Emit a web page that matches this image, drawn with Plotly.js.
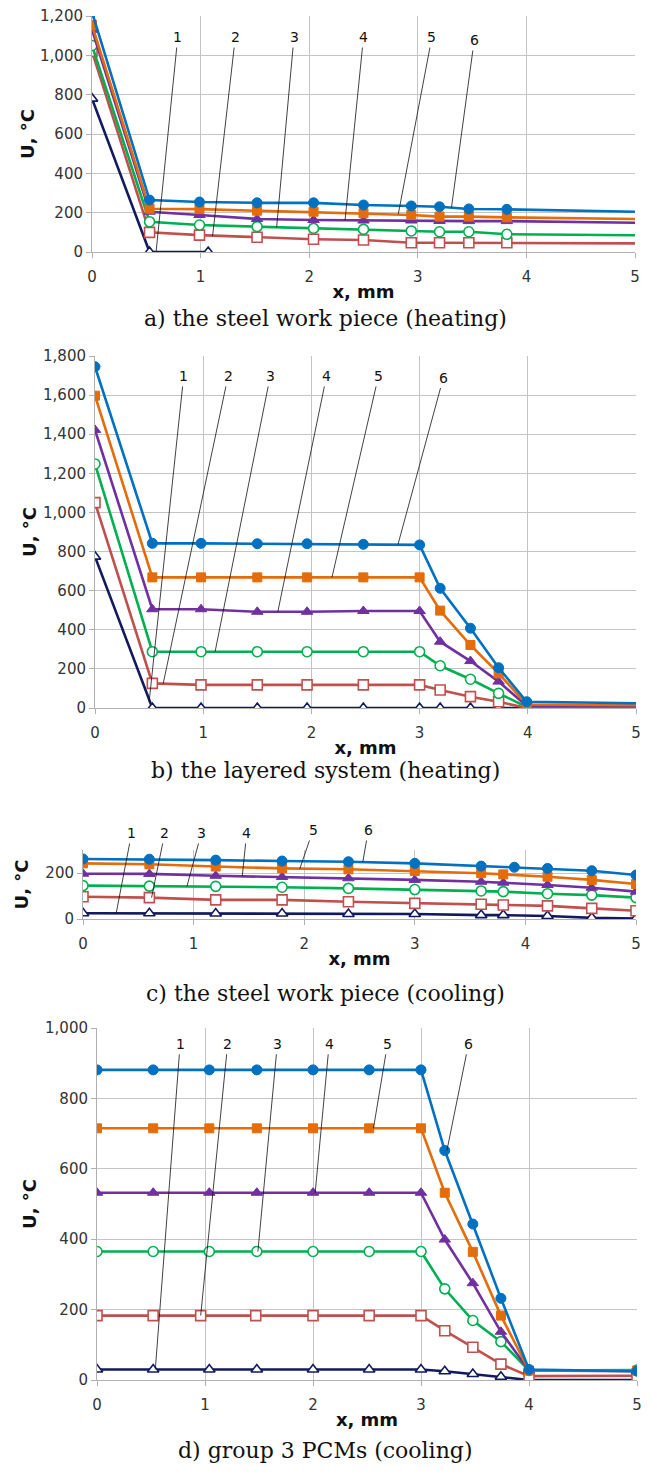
<!DOCTYPE html>
<html><head><meta charset="utf-8">
<script src="https://cdn.plot.ly/plotly-3.0.1.min.js"></script>
<style>html,body{margin:0;padding:0;background:#fff}</style>
</head><body>
<div id="chart" style="width:651px;height:1473px"></div>
<script>
// ---------- DATA ----------
const curveNames = ['1', '2', '3', '4', '5', '6'];
const xTicks = [0, 1, 2, 3, 4, 5];

// a) the steel work piece (heating)
const xA = [0, 0.53, 0.99, 1.52, 2.04, 2.50, 2.94, 3.20, 3.47, 3.82, 5];
const xA1 = [0, 0.53, 1.07];
const a1 = [780, 0, 0];
const a2 = [1020, 100, 86, 75, 65, 61, 47, 47, 47, 47, 44];
const a3 = [1050, 154, 137, 129, 120, 115, 107, 103, 103, 90, 85];
const a4 = [1130, 205, 188, 168, 163, 160, 160, 158, 157, 157, 149];
const a5 = [1155, 220, 218, 210, 205, 197, 188, 180, 180, 176, 168];
const a6 = [1220, 264, 254, 250, 250, 239, 234, 230, 219, 217, 205];

// b) the layered system (heating)
const xB = [0, 0.53, 0.98, 1.50, 1.96, 2.48, 3.0, 3.19, 3.47, 3.73, 3.99, 5];
const b1 = [774, 0, 0, 0, 0, 0, 0, 0, 0, 0, 0, 0];
const b2 = [1050, 126, 118, 118, 118, 118, 118, 92, 58, 32, 0, 0];
const b3 = [1248, 288, 288, 288, 288, 288, 288, 216, 147, 75, 5, 5];
const b4 = [1422, 505, 505, 492, 492, 496, 496, 339, 240, 135, 10, 10];
const b5 = [1597, 668, 668, 668, 668, 668, 668, 498, 322, 177, 18, 14];
const b6 = [1745, 842, 842, 840, 840, 837, 834, 612, 408, 206, 32, 24];

// c) the steel work piece (cooling)
const xC = [0, 0.6, 1.2, 1.8, 2.4, 3.0, 3.6, 3.8, 4.2, 4.6, 5.0];
const xC6 = [0, 0.6, 1.2, 1.8, 2.4, 3.0, 3.6, 3.9, 4.2, 4.6, 5.0];
const c1 = [25, 25, 24, 24, 22, 22, 17, 17, 13, 5, 2];
const c2 = [97, 93, 83, 83, 75, 68, 64, 61, 57, 46, 36];
const c3 = [145, 143, 142, 138, 133, 128, 122, 119, 110, 104, 93];
const c4 = [197, 196, 188, 183, 177, 170, 162, 158, 148, 136, 119];
const c5 = [242, 238, 228, 220, 216, 209, 199, 194, 184, 170, 152];
const c6 = [261, 260, 256, 252, 249, 242, 230, 225, 220, 210, 191];

// d) group 3 PCMs (cooling)
const xD = [0, 0.52, 1.04, 1.48, 2.0, 2.52, 3.0, 3.22, 3.48, 3.74, 4.0, 5.0];
const xD2 = [0, 0.52, 0.96, 1.47, 2.0, 2.52, 3.0, 3.22, 3.48, 3.74, 4.0, 5.0];
const d1 = [30, 30, 30, 30, 30, 30, 30, 25, 17, 9, 0, 0];
const d2 = [183, 183, 183, 183, 183, 183, 183, 140, 93, 45, 11, 12];
const d3 = [365, 365, 365, 365, 365, 365, 365, 259, 169, 109, 27, 28];
const d4 = [532, 532, 532, 532, 532, 532, 532, 399, 275, 137, 27, 25];
const d5 = [715, 715, 715, 715, 715, 715, 715, 532, 364, 183, 27, 27];
const d6 = [881, 881, 881, 881, 881, 881, 881, 652, 443, 232, 30, 25];

// curve-number callouts: label position and pointed curve position (data units)
const aLabX = [0.79, 1.32, 1.86, 2.50, 3.13, 3.52], aLabY = [1093, 1093, 1093, 1093, 1093, 1078];
const aTipX = [0.59, 1.11, 1.70, 2.33, 2.82, 3.31], aTipY = [0, 80, 125, 161, 192, 226];
const bLabX = [0.82, 1.23, 1.62, 2.14, 2.62, 3.22], bLabY = [1698, 1698, 1698, 1698, 1698, 1690];
const bTipX = [0.50, 0.63, 1.11, 1.69, 2.19, 2.80], bTipY = [30, 124, 288, 493, 668, 836];
const cLabX = [0.44, 0.74, 1.07, 1.48, 2.08, 2.58], cLabY = [374, 374, 374, 374, 387, 387];
const cTipX = [0.30, 0.62, 0.94, 1.44, 1.96, 2.53], cTipY = [25, 93, 142, 186, 218, 248];
const dLabX = [0.77, 1.21, 1.67, 2.15, 2.69, 3.44], dLabY = [955, 955, 955, 955, 955, 955];
const dTipX = [0.54, 0.96, 1.49, 2.02, 2.56, 3.24], dTipY = [30, 183, 365, 532, 715, 652];

const captions = ['a) the steel work piece (heating)', 'b) the layered system (heating)',
                  'c) the steel work piece (cooling)', 'd) group 3 PCMs (cooling)'];
const xTitle = 'x, mm';
const yTitle = 'U, °C';

// ---------- STYLE ----------
const W = 651, H = 1473;
const colors = ['#121a5e', '#c0504d', '#00b050', '#7030a0', '#e46c0a', '#0070c0'];
const symbols = ['triangle-up', 'square', 'circle', 'triangle-up', 'square', 'circle'];
const openMk = [true, true, true, false, false, false];
const sizes = [10, 10, 10, 10, 9, 10];
// plot areas in pixels [left, right, top, bottom]
const boxes = [[92, 635, 16, 252], [95, 636, 356, 708], [83, 636, 850, 919], [97, 637, 1028, 1380]];
const yRanges = [[0, 1200], [0, 1800], [0, 300], [0, 1000]];
const yTickSets = [[0,200,400,600,800,1000,1200], [0,200,400,600,800,1000,1200,1400,1600,1800], [0,200], [0,200,400,600,800,1000]];
const captionY = [318, 770, 993, 1450];
const yTitleStandoff = [0, 1, 12, 3];

const fx = px => px / W, fy = py => 1 - py / H;

const traces = [];
function addPanel(p, xs, ys, hideLast) {
  for (let i = 0; i < 6; i++) {
    const n = ys[i].length;
    const op = ys[i].map((v, k) => (hideLast && k === n - 1 && xs[i][k] === 5) ? 0 : 1);
    traces.push({
      type: 'scatter', mode: 'lines+markers', name: curveNames[i],
      x: xs[i], y: ys[i], xaxis: 'x' + (p === 1 ? '' : p), yaxis: 'y' + (p === 1 ? '' : p),
      line: {color: colors[i], width: 2.6},
      marker: {symbol: symbols[i], size: sizes[i], opacity: op,
               color: openMk[i] ? '#ffffff' : colors[i],
               line: {color: colors[i], width: openMk[i] ? 1.6 : 1}},
      showlegend: false, hoverinfo: 'skip'
    });
  }
}
addPanel(1, [xA1, xA, xA, xA, xA, xA], [a1, a2, a3, a4, a5, a6], true);
addPanel(2, [xB, xB, xB, xB, xB, xB], [b1, b2, b3, b4, b5, b6], true);
addPanel(3, [xC, xC, xC, xC, xC, xC6], [c1, c2, c3, c4, c5, c6], false);
addPanel(4, [xD, xD2, xD, xD, xD, xD], [d1, d2, d3, d4, d5, d6], false);

const tickFont = {family: 'DejaVu Sans, sans-serif', size: 15, color: '#333333'};
const titleFont = {family: 'DejaVu Sans, sans-serif', size: 18, color: '#111111', weight: 'bold'};
const grid = '#c4c4c4';
const layout = {
  width: W, height: H, margin: {l: 0, r: 0, t: 0, b: 0},
  paper_bgcolor: '#ffffff', plot_bgcolor: '#ffffff', showlegend: false,
  annotations: [], shapes: []
};
for (let p = 0; p < 4; p++) {
  const s = p === 0 ? '' : String(p + 1);
  const b = boxes[p];
  layout['xaxis' + s] = {
    domain: [fx(b[0]), fx(b[1])], range: [0, 5], anchor: 'y' + s,
    tickvals: xTicks, ticktext: xTicks.map(String), tickfont: tickFont,
    title: {text: xTitle, font: titleFont, standoff: 0},
    showgrid: true, gridcolor: grid, gridwidth: 1, zeroline: false,
    showline: true, linecolor: '#b0b0b0', linewidth: 1,
    ticks: 'outside', ticklen: 5, tickcolor: '#b0b0b0', ticklabelstandoff: 6,
    automargin: false, fixedrange: true
  };
  layout['yaxis' + s] = {
    domain: [fy(b[3]), fy(b[2])], range: yRanges[p], anchor: 'x' + s,
    tickvals: yTickSets[p], tickformat: ',d', tickfont: tickFont,
    title: {text: yTitle, font: titleFont, standoff: yTitleStandoff[p]},
    showgrid: true, gridcolor: grid, gridwidth: 1, zeroline: false,
    showline: true, linecolor: '#b0b0b0', linewidth: 1,
    ticks: 'outside', ticklen: 5, tickcolor: '#b0b0b0',
    automargin: false, fixedrange: true
  };
  layout.annotations.push({
    xref: 'paper', yref: 'paper', x: 0.5, y: fy(captionY[p]), xanchor: 'center', yanchor: 'middle',
    text: captions[p], showarrow: false,
    font: {family: 'DejaVu Serif, serif', size: 22, color: '#111111'}
  });
}
const callouts = [[aLabX, aLabY, aTipX, aTipY], [bLabX, bLabY, bTipX, bTipY],
                  [cLabX, cLabY, cTipX, cTipY], [dLabX, dLabY, dTipX, dTipY]];
callouts.forEach((c, p) => {
  const s = p === 0 ? '' : String(p + 1);
  for (let i = 0; i < 6; i++) {
    layout.annotations.push({
      xref: 'x' + s, yref: 'y' + s, axref: 'x' + s, ayref: 'y' + s,
      x: c[2][i], y: c[3][i], ax: c[0][i], ay: c[1][i],
      text: curveNames[i], showarrow: true, arrowhead: 0, arrowwidth: 0.8, arrowcolor: '#111111',
      font: {family: 'DejaVu Sans, sans-serif', size: 14, color: '#111111'}, borderpad: 2
    });
  }
});

Plotly.newPlot('chart', traces, layout, {displayModeBar: false, staticPlot: true});
</script>
</body></html>
